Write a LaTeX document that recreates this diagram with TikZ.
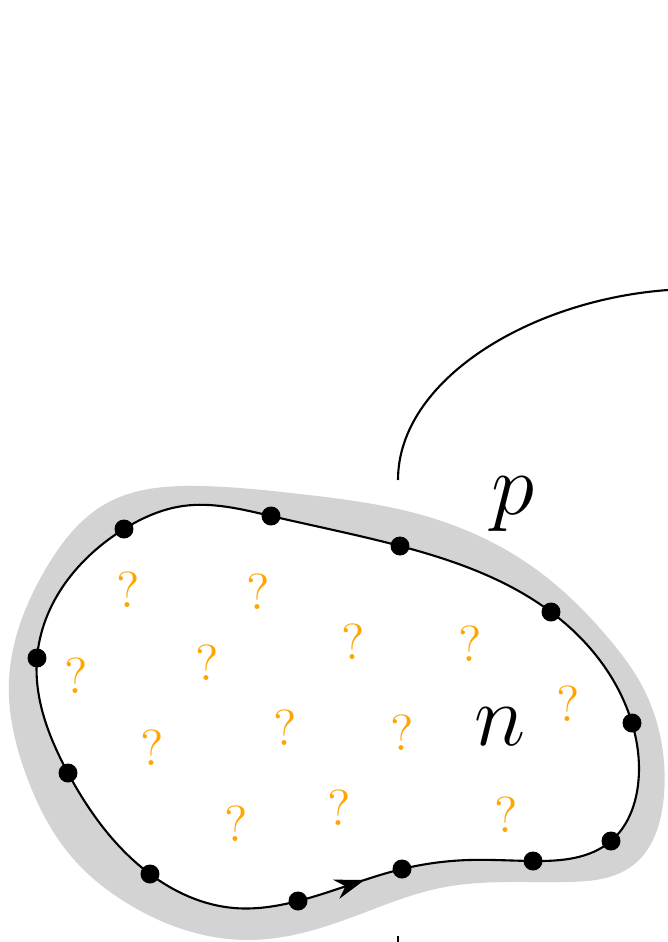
\documentclass[tikz,border=0pt]{standalone}
\usepackage{xcolor}
\usepackage{tikz}
\usetikzlibrary{arrows.meta,decorations.markings,hobby}
\definecolor{acikGri}{HTML}{D3D3D3}
\definecolor{turuncu}{HTML}{FFA500}
\tikzset{
  sinir/.style={line width=0.6pt},
  soru/.style={turuncu,font=\Large,inner sep=0pt},
  harf/.style={font=\Huge,inner sep=0pt}
}
\begin{document}
\begin{tikzpicture}[x=0.01cm,y=-0.01cm]
\useasboundingbox (0,0) rectangle (668,942);
% points on the boundary
\coordinate (d1) at (124,529);
\coordinate (d2) at (271,516);
\coordinate (d3) at (400,546);
\coordinate (d4) at (551,612);
\coordinate (d5) at (632,723);
\coordinate (d6) at (611,841);
\coordinate (d7) at (533,861);
\coordinate (d8) at (402,869);
\coordinate (d9) at (298,901);
\coordinate (d10) at (150,874);
\coordinate (d11) at (68,773);
\coordinate (d12) at (37,658);
% gray band
\fill[acikGri,use Hobby shortcut,closed=true] (9,680) .. (28,780) .. (70,855) .. (130,905) .. (250,940) .. (350,918) .. (440,888) .. (567,882) .. (632,866) .. (664,795) .. (660,735) .. (640,682) .. (610,640) .. (530,565) .. (422,515) .. (300,494) .. (200,486) .. (107,503) .. (45,570);
% region boundary
\draw[sinir,fill=white,use Hobby shortcut,closed=true,postaction={decorate},decoration={markings,mark=at position 7mm with {\arrow{Stealth[length=3mm,width=2mm]}}}]
  (d9) .. (d8) .. (469,860) .. (d7) .. (d6) .. (638,785) .. (d5) .. (d4) .. (d3) .. (d2) .. (183,506) .. (d1) .. (d12) .. (d11) .. (d10) .. (234,908);
\foreach \i in {1,...,12} \fill (d\i) circle (2.7pt);
% unknowns
\foreach \x/\y [count=\k] in {128/590,258/592,353/642,470/644,207/663,76/676,568/704,285/728,402/733,152/748,339/808,236/824,506/815}
  \node[soru] (s\k) at (\x,\y) {?};
\node[harf] (p) at (513,504) {$p$};
\node[harf] (n) at (500,727) {$n$};
% outer line
\coordinate (ust1) at (398,480);
\coordinate (ust2) at (668,290);
\draw[sinir] (ust1) .. controls (398,380) and (530,300) .. (ust2);
\coordinate (alt1) at (398,936);
\coordinate (alt2) at (398,942);
\draw[sinir] (alt1) -- (alt2);
\end{tikzpicture}
\end{document}
